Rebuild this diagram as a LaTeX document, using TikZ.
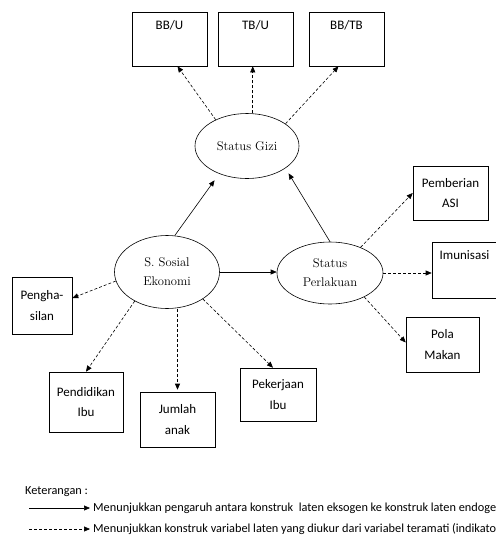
\documentclass[tikz,border=0pt]{standalone}
\usepackage{fontspec}
\newfontfamily\boxfont{Carlito}
\usetikzlibrary{arrows.meta,shapes.geometric,calc}
\begin{document}
\begin{tikzpicture}[x=1pt,y=-1pt,
  ind/.style={draw,line width=0.6pt,minimum width=75pt,minimum height=54pt,inner sep=0pt,font=\boxfont\fontsize{13}{20.5}\selectfont,align=center},
  lat/.style={draw,ellipse,line width=0.6pt,inner sep=0pt,font=\fontsize{12.6}{19}\selectfont,align=center},
  solidarr/.style={line width=0.6pt,-{Triangle[length=6pt,width=5pt]}},
  dasharr/.style={line width=0.6pt,dash pattern=on 3pt off 2pt,-{Triangle[length=6pt,width=5pt]}},
  toplab/.style={anchor=north,inner sep=0pt,font=\boxfont\fontsize{13}{15}\selectfont},
  legtext/.style={inner sep=0pt,font=\boxfont\fontsize{12.3}{14}\selectfont}]
\useasboundingbox (0,0) rectangle (496,542);
\begin{scope}
\clip (0,0) rectangle (496,542);
% latent constructs
\node[lat,minimum width=104pt,minimum height=65pt] (sg) at (247,146) {Status Gizi};
\node[lat,minimum width=105pt,minimum height=73pt] (ss) at (167,272) {S. Sosial\\Ekonomi};
\node[lat,minimum width=106pt,minimum height=62pt] (sp) at (330,273) {Status\\Perlakuan};
% indicators
\node[ind,label={[toplab,yshift=-9pt]north:BB/U}] (bbu) at (169.5,39) {};
\node[ind,label={[toplab,yshift=-9pt]north:TB/U}] (tbu) at (255.5,39) {};
\node[ind,label={[toplab,yshift=-9pt]north:BB/TB}] (bbtb) at (346.5,39) {};
\node[ind] (pem) at (450.5,193) {Pemberian\\ASI};
\node[ind,minimum width=65pt,minimum height=56pt,label={[toplab,yshift=-9pt]north:Imunisasi}] (imu) at (464.5,270) {};
\node[ind,minimum width=73pt,minimum height=55pt] (pola) at (442.5,344.5) {Pola\\Makan};
\node[ind,minimum width=60pt,minimum height=57pt] (peng) at (42,305.5) {Pengha-\\silan};
\node[ind,minimum width=74pt,minimum height=60pt] (pend) at (86,402) {Pendidikan\\Ibu};
\node[ind,minimum width=75pt,minimum height=55pt] (jum) at (177.5,419.5) {Jumlah\\anak};
\node[ind,minimum width=76pt,minimum height=53pt] (pek) at (278,394.5) {Pekerjaan\\Ibu};
% structural paths
\draw[solidarr,shorten >=8pt] (ss.78) -- (sg.225);
\draw[solidarr,shorten >=6pt] (sp.north) -- (sg.330);
\draw[solidarr] (ss.east) -- (ss.east -| sp.west);
% measurement paths
\draw[dasharr] (sg.140) -- ([xshift=8pt]bbu.south);
\draw[dasharr] (sg.80) -- (sg.80 |- tbu.south);
\draw[dasharr] (sg.30) -- ([xshift=-8pt]bbtb.south);
\draw[dasharr] (sp.40) -- (pem.west);
\draw[dasharr] (sp.east) -- (sp.east -| imu.west);
\draw[dasharr] (sp.-35) -- ([yshift=2pt]pola.west);
\draw[dasharr] (ss.190) -- ([yshift=7.5pt]peng.east);
\draw[dasharr] (ss.222) -- (pend.north);
\draw[dasharr] (jum.north |- ss.south) -- ([yshift=2pt]jum.north);
\draw[dasharr] (ss.-37) -- ([xshift=-5pt]pek.north);
% legend
\node[legtext,anchor=base west] (ket) at (25,494) {Keterangan :};
\coordinate (l1a) at (29,508);
\coordinate (l1b) at (90,508);
\coordinate (l2a) at (29,529);
\coordinate (l2b) at (90,529);
\draw[solidarr] (l1a) -- (l1b);
\draw[dasharr] (l2a) -- (l2b);
\node[legtext,anchor=west] (t1) at (93,508) {Menunjukkan pengaruh antara konstruk\ \ laten eksogen ke konstruk laten endogen};
\node[legtext,anchor=west] (t2) at (93,529) {Menunjukkan konstruk variabel laten yang diukur dari variabel teramati (indikator)};
\end{scope}
\end{tikzpicture}
\end{document}
